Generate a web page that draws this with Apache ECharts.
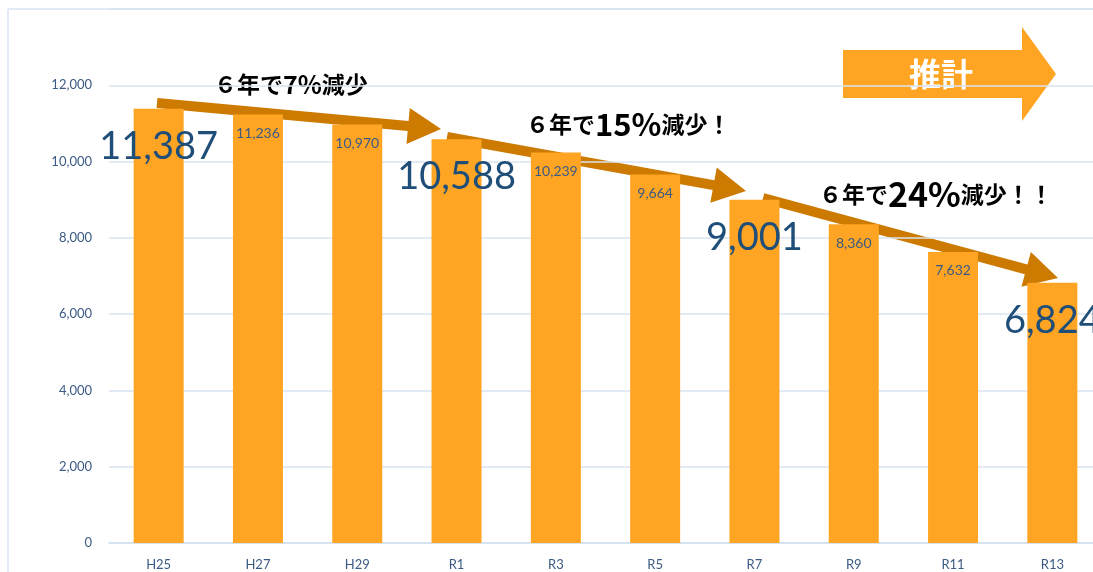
<!DOCTYPE html>
<html>
<head>
<meta charset="utf-8">
<script src="https://cdn.jsdelivr.net/npm/echarts@6/dist/echarts.min.js"></script>
<style>
  html, body { margin: 0; padding: 0; background: #fff; overflow: hidden; }
  /* plot runs slightly past the right edge of the picture, as in the original */
  #main { width: 1102px; height: 572px; }
</style>
</head>
<body>
<div id="main"></div>
<script>
  // data
  var categories = ['H25', 'H27', 'H29', 'R1', 'R3', 'R5', 'R7', 'R9', 'R11', 'R13'];
  var values = [11387, 11236, 10970, 10588, 10239, 9664, 9001, 8360, 7632, 6824];
  // every 6 years the label is drawn big
  var bigLabel = [true, false, false, true, false, false, true, false, false, true];
  var yTicks = [0, 2000, 4000, 6000, 8000, 10000, 12000];

  var numFont = 'Lato, "Liberation Sans", sans-serif';
  var jpFont = '"Noto Sans CJK JP", sans-serif';

  function fmt(v) {
    return v.toLocaleString('en-US');
  }

  var barData = values.map(function (v, i) {
    var big = bigLabel[i];
    return {
      value: v,
      label: {
        show: true,
        position: 'insideTop',
        distance: big ? 19 : 12,
        fontSize: big ? 38 : 14,
        color: big ? '#1F4E79' : '#3B5A84',
        fontFamily: numFont,
        formatter: function (p) { return fmt(p.value); }
      }
    };
  });

  // polygon for a block arrow from (x1,y1) to tip (x2,y2)
  function arrowShape(x1, y1, x2, y2, shaft, headLen, headW) {
    var dx = x2 - x1, dy = y2 - y1;
    var len = Math.sqrt(dx * dx + dy * dy);
    var ux = dx / len, uy = dy / len;
    var nx = -uy, ny = ux;
    var bx = x2 - ux * headLen, by = y2 - uy * headLen;
    var s = shaft / 2, h = headW / 2;
    return [
      [x1 + nx * s, y1 + ny * s],
      [bx + nx * s, by + ny * s],
      [bx + nx * h, by + ny * h],
      [x2, y2],
      [bx - nx * h, by - ny * h],
      [bx - nx * s, by - ny * s],
      [x1 - nx * s, y1 - ny * s]
    ];
  }

  var arrowColor = '#CC7A00';
  var barColor = '#FFA523';

  var myChart = echarts.init(document.getElementById('main'));
  var option = {
    backgroundColor: '#fff',
    animation: false,
    grid: {
      left: 109,
      top: 9,
      right: 0,
      bottom: 29
    },
    xAxis: {
      type: 'category',
      data: categories,
      axisTick: { show: false },
      axisLine: { lineStyle: { color: '#D3DFEE', width: 1.5 } },
      axisLabel: {
        margin: 15,
        fontSize: 13,
        color: '#3B5A84',
        fontFamily: numFont
      }
    },
    yAxis: {
      type: 'value',
      min: 0,
      max: 14000,
      interval: 2000,
      axisLine: { show: false },
      axisTick: { show: false },
      splitLine: { lineStyle: { color: '#D9E4F2', width: 1.5 } },
      axisLabel: {
        margin: 17,
        fontSize: 13,
        color: '#3B5A84',
        fontFamily: numFont,
        formatter: function (v) {
          return yTicks.indexOf(v) >= 0 ? fmt(v) : '';
        }
      }
    },
    series: [
      {
        type: 'bar',
        data: barData,
        barWidth: 50,
        itemStyle: { color: barColor }
      }
    ],
    graphic: [
      // outer frame
      { type: 'line', shape: { x1: 8, y1: 9, x2: 1102, y2: 9 }, style: { stroke: '#D9E4F2', lineWidth: 1.5 } },
      { type: 'line', shape: { x1: 8, y1: 9, x2: 8, y2: 572 }, style: { stroke: '#D9E4F2', lineWidth: 1.5 } },
      // trend arrows
      { type: 'polygon', shape: { points: arrowShape(157, 103, 441, 129, 10, 33, 36) }, style: { fill: arrowColor } },
      { type: 'polygon', shape: { points: arrowShape(447, 137, 746, 191, 10, 33, 36) }, style: { fill: arrowColor } },
      { type: 'polygon', shape: { points: arrowShape(763, 198, 1058, 278, 10, 33, 36) }, style: { fill: arrowColor } },
      // estimate arrow
      {
        type: 'polygon',
        shape: { points: [[843, 50], [1022, 50], [1022, 27], [1056, 74], [1022, 121], [1022, 98], [843, 98]] },
        style: { fill: barColor }
      },
      {
        type: 'text', x: 941, y: 74,
        style: {
          text: '推計', fill: '#fff', fontSize: 32, fontWeight: 'bold', fontFamily: jpFont,
          textAlign: 'center', textVerticalAlign: 'middle'
        }
      },
      // annotations
      {
        type: 'text', x: 214, y: 84,
        style: {
          text: '{a|６年で}{b|7%}{a|減少}',
          textVerticalAlign: 'middle',
          rich: {
            a: { fontSize: 23, fontWeight: 'bold', fontFamily: jpFont, color: '#111' },
            b: { fontSize: 25, fontWeight: 'bold', fontFamily: jpFont, color: '#111' }
          }
        }
      },
      {
        type: 'text', x: 526, y: 124,
        style: {
          text: '{a|６年で}{b|15%}{a|減少！}',
          textVerticalAlign: 'middle',
          rich: {
            a: { fontSize: 23, fontWeight: 'bold', fontFamily: jpFont, color: '#111' },
            b: { fontSize: 31, fontWeight: 'bold', fontFamily: jpFont, color: '#111' }
          }
        }
      },
      {
        type: 'text', x: 819, y: 194,
        style: {
          text: '{a|６年で}{b|24%}{a|減少！！}',
          textVerticalAlign: 'middle',
          rich: {
            a: { fontSize: 23, fontWeight: 'bold', fontFamily: jpFont, color: '#111' },
            b: { fontSize: 34, fontWeight: 'bold', fontFamily: jpFont, color: '#111' }
          }
        }
      }
    ]
  };
  myChart.setOption(option);
</script>
</body>
</html>
